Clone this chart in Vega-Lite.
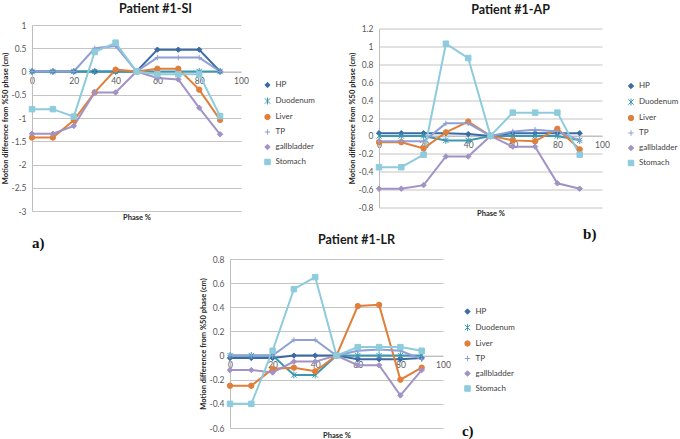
{
  "$schema": "https://vega.github.io/schema/vega-lite/v6.json",
  "autosize": {"type": "pad"},
  "padding": {"left": 1, "top": 2, "right": 0, "bottom": 0},
  "background": "white",
  "spacing": -19,
  "resolve": {"legend": {"color": "independent", "shape": "independent"}, "scale": {"color": "independent", "shape": "independent", "fill": "independent", "stroke": "independent", "size": "independent"}},
  "config": {
    "view": {"stroke": null},
    "font": "Lato",
    "axis": {"labelFont": "Lato", "labelColor": "#595959", "labelFontSize": 8.5, "titleFont": "Lato", "titleFontSize": 7.5, "titleFontWeight": "bold", "titleColor": "#262626", "ticks": false, "domainColor": "#bdbdbd", "gridColor": "#c4c4c4", "labelFlush": false, "labelOverlap": false},
    "legend": {"orient": "none", "title": null, "symbolSize": 30, "symbolStrokeWidth": 1, "labelFont": "Lato", "labelFontSize": 8, "labelColor": "#404040", "rowPadding": 5, "labelOffset": 4},
    "title": {"font": "Lato", "fontSize": 12.5, "fontWeight": "bold", "color": "#1a1a1a"}
  },
  "datasets": {
    "si": [
      {"phase":0,"organ":"HP","value":0},{"phase":10,"organ":"HP","value":0},{"phase":20,"organ":"HP","value":0},{"phase":30,"organ":"HP","value":0},{"phase":40,"organ":"HP","value":0},{"phase":50,"organ":"HP","value":0},{"phase":60,"organ":"HP","value":0.47},{"phase":70,"organ":"HP","value":0.47},{"phase":80,"organ":"HP","value":0.47},{"phase":90,"organ":"HP","value":0},
      {"phase":0,"organ":"Duodenum","value":0},{"phase":10,"organ":"Duodenum","value":0},{"phase":20,"organ":"Duodenum","value":0},{"phase":30,"organ":"Duodenum","value":0},{"phase":40,"organ":"Duodenum","value":0},{"phase":50,"organ":"Duodenum","value":0},{"phase":60,"organ":"Duodenum","value":0},{"phase":70,"organ":"Duodenum","value":0},{"phase":80,"organ":"Duodenum","value":0},{"phase":90,"organ":"Duodenum","value":0},
      {"phase":0,"organ":"Liver","value":-1.42},{"phase":10,"organ":"Liver","value":-1.42},{"phase":20,"organ":"Liver","value":-1.05},{"phase":30,"organ":"Liver","value":-0.45},{"phase":40,"organ":"Liver","value":0.04},{"phase":50,"organ":"Liver","value":0},{"phase":60,"organ":"Liver","value":0.06},{"phase":70,"organ":"Liver","value":0.06},{"phase":80,"organ":"Liver","value":-0.39},{"phase":90,"organ":"Liver","value":-1.04},
      {"phase":0,"organ":"TP","value":0},{"phase":10,"organ":"TP","value":0},{"phase":20,"organ":"TP","value":0},{"phase":30,"organ":"TP","value":0.5},{"phase":40,"organ":"TP","value":0.55},{"phase":50,"organ":"TP","value":0},{"phase":60,"organ":"TP","value":0.3},{"phase":70,"organ":"TP","value":0.3},{"phase":80,"organ":"TP","value":0.3},{"phase":90,"organ":"TP","value":0},
      {"phase":0,"organ":"gallbladder","value":-1.34},{"phase":10,"organ":"gallbladder","value":-1.34},{"phase":20,"organ":"gallbladder","value":-1.17},{"phase":30,"organ":"gallbladder","value":-0.45},{"phase":40,"organ":"gallbladder","value":-0.45},{"phase":50,"organ":"gallbladder","value":0},{"phase":60,"organ":"gallbladder","value":-0.14},{"phase":70,"organ":"gallbladder","value":-0.17},{"phase":80,"organ":"gallbladder","value":-0.78},{"phase":90,"organ":"gallbladder","value":-1.35},
      {"phase":0,"organ":"Stomach","value":-0.81},{"phase":10,"organ":"Stomach","value":-0.81},{"phase":20,"organ":"Stomach","value":-0.97},{"phase":30,"organ":"Stomach","value":0.42},{"phase":40,"organ":"Stomach","value":0.62},{"phase":50,"organ":"Stomach","value":0},{"phase":60,"organ":"Stomach","value":-0.06},{"phase":70,"organ":"Stomach","value":-0.06},{"phase":80,"organ":"Stomach","value":-0.06},{"phase":90,"organ":"Stomach","value":-0.96}
    ],
    "ap": [
      {"phase":0,"organ":"HP","value":0.03},{"phase":10,"organ":"HP","value":0.03},{"phase":20,"organ":"HP","value":0.03},{"phase":30,"organ":"HP","value":0.03},{"phase":40,"organ":"HP","value":0.02},{"phase":50,"organ":"HP","value":0},{"phase":60,"organ":"HP","value":0.03},{"phase":70,"organ":"HP","value":0.03},{"phase":80,"organ":"HP","value":0.03},{"phase":90,"organ":"HP","value":0.03},
      {"phase":0,"organ":"Duodenum","value":0},{"phase":10,"organ":"Duodenum","value":0},{"phase":20,"organ":"Duodenum","value":0},{"phase":30,"organ":"Duodenum","value":-0.05},{"phase":40,"organ":"Duodenum","value":-0.05},{"phase":50,"organ":"Duodenum","value":0},{"phase":60,"organ":"Duodenum","value":0},{"phase":70,"organ":"Duodenum","value":0},{"phase":80,"organ":"Duodenum","value":0},{"phase":90,"organ":"Duodenum","value":-0.05},
      {"phase":0,"organ":"Liver","value":-0.07},{"phase":10,"organ":"Liver","value":-0.07},{"phase":20,"organ":"Liver","value":-0.14},{"phase":30,"organ":"Liver","value":0.04},{"phase":40,"organ":"Liver","value":0.16},{"phase":50,"organ":"Liver","value":0},{"phase":60,"organ":"Liver","value":-0.05},{"phase":70,"organ":"Liver","value":-0.06},{"phase":80,"organ":"Liver","value":0.08},{"phase":90,"organ":"Liver","value":-0.15},
      {"phase":0,"organ":"TP","value":-0.06},{"phase":10,"organ":"TP","value":-0.06},{"phase":20,"organ":"TP","value":-0.06},{"phase":30,"organ":"TP","value":0.14},{"phase":40,"organ":"TP","value":0.14},{"phase":50,"organ":"TP","value":0},{"phase":60,"organ":"TP","value":0.05},{"phase":70,"organ":"TP","value":0.07},{"phase":80,"organ":"TP","value":0.05},{"phase":90,"organ":"TP","value":-0.05},
      {"phase":0,"organ":"gallbladder","value":-0.59},{"phase":10,"organ":"gallbladder","value":-0.59},{"phase":20,"organ":"gallbladder","value":-0.55},{"phase":30,"organ":"gallbladder","value":-0.23},{"phase":40,"organ":"gallbladder","value":-0.23},{"phase":50,"organ":"gallbladder","value":0},{"phase":60,"organ":"gallbladder","value":-0.12},{"phase":70,"organ":"gallbladder","value":-0.12},{"phase":80,"organ":"gallbladder","value":-0.53},{"phase":90,"organ":"gallbladder","value":-0.59},
      {"phase":0,"organ":"Stomach","value":-0.35},{"phase":10,"organ":"Stomach","value":-0.35},{"phase":20,"organ":"Stomach","value":-0.21},{"phase":30,"organ":"Stomach","value":1.03},{"phase":40,"organ":"Stomach","value":0.87},{"phase":50,"organ":"Stomach","value":0},{"phase":60,"organ":"Stomach","value":0.26},{"phase":70,"organ":"Stomach","value":0.26},{"phase":80,"organ":"Stomach","value":0.26},{"phase":90,"organ":"Stomach","value":-0.21}
    ],
    "lr": [
      {"phase":0,"organ":"HP","value":-0.02},{"phase":10,"organ":"HP","value":-0.02},{"phase":20,"organ":"HP","value":-0.02},{"phase":30,"organ":"HP","value":0},{"phase":40,"organ":"HP","value":0},{"phase":50,"organ":"HP","value":0},{"phase":60,"organ":"HP","value":-0.03},{"phase":70,"organ":"HP","value":-0.03},{"phase":80,"organ":"HP","value":-0.03},{"phase":90,"organ":"HP","value":-0.02},
      {"phase":0,"organ":"Duodenum","value":0},{"phase":10,"organ":"Duodenum","value":0},{"phase":20,"organ":"Duodenum","value":0},{"phase":30,"organ":"Duodenum","value":-0.16},{"phase":40,"organ":"Duodenum","value":-0.16},{"phase":50,"organ":"Duodenum","value":0},{"phase":60,"organ":"Duodenum","value":0},{"phase":70,"organ":"Duodenum","value":0},{"phase":80,"organ":"Duodenum","value":0},{"phase":90,"organ":"Duodenum","value":0},
      {"phase":0,"organ":"Liver","value":-0.25},{"phase":10,"organ":"Liver","value":-0.25},{"phase":20,"organ":"Liver","value":-0.11},{"phase":30,"organ":"Liver","value":-0.1},{"phase":40,"organ":"Liver","value":-0.13},{"phase":50,"organ":"Liver","value":0},{"phase":60,"organ":"Liver","value":0.41},{"phase":70,"organ":"Liver","value":0.42},{"phase":80,"organ":"Liver","value":-0.2},{"phase":90,"organ":"Liver","value":-0.1},
      {"phase":0,"organ":"TP","value":0},{"phase":10,"organ":"TP","value":0},{"phase":20,"organ":"TP","value":0},{"phase":30,"organ":"TP","value":0.13},{"phase":40,"organ":"TP","value":0.13},{"phase":50,"organ":"TP","value":0},{"phase":60,"organ":"TP","value":0.04},{"phase":70,"organ":"TP","value":0.05},{"phase":80,"organ":"TP","value":0.04},{"phase":90,"organ":"TP","value":-0.03},
      {"phase":0,"organ":"gallbladder","value":-0.12},{"phase":10,"organ":"gallbladder","value":-0.12},{"phase":20,"organ":"gallbladder","value":-0.14},{"phase":30,"organ":"gallbladder","value":-0.05},{"phase":40,"organ":"gallbladder","value":-0.05},{"phase":50,"organ":"gallbladder","value":0},{"phase":60,"organ":"gallbladder","value":-0.08},{"phase":70,"organ":"gallbladder","value":-0.08},{"phase":80,"organ":"gallbladder","value":-0.33},{"phase":90,"organ":"gallbladder","value":-0.12},
      {"phase":0,"organ":"Stomach","value":-0.4},{"phase":10,"organ":"Stomach","value":-0.4},{"phase":20,"organ":"Stomach","value":0.04},{"phase":30,"organ":"Stomach","value":0.55},{"phase":40,"organ":"Stomach","value":0.65},{"phase":50,"organ":"Stomach","value":0},{"phase":60,"organ":"Stomach","value":0.07},{"phase":70,"organ":"Stomach","value":0.07},{"phase":80,"organ":"Stomach","value":0.07},{"phase":90,"organ":"Stomach","value":0.04}
    ],
    "la": [{"phase":0,"value":-3.69,"label":"a)"}],
    "lb": [{"phase":91.5,"value":-1.1,"label":"b)"}],
    "lc": [{"phase":108.9,"value":-0.625,"label":"c)"}]
  },
  "vconcat": [
    {
      "bounds": "flush",
      "spacing": 138,
      "center": true,
      "resolve": {"legend": {"color": "independent", "shape": "independent"}, "scale": {"color": "independent", "shape": "independent", "fill": "independent", "stroke": "independent", "size": "independent"}},
      "hconcat": [
        {
          "width": 209, "height": 186,
          "title": {"text": "Patient #1-SI", "offset": 6, "dx": 19},
          "encoding": {
            "x": {"field": "phase", "type": "quantitative", "scale": {"domain": [0, 100], "nice": false}, "axis": {"values": [0,20,40,60,80,100], "title": "Phase %", "offset": -139.5, "titleY": 145.5, "titleBaseline": "middle", "grid": false, "labelPadding": 5}},
            "y": {"field": "value", "type": "quantitative", "scale": {"domain": [-3, 1], "nice": false, "zero": false}, "axis": {"values": [-3,-2.5,-2,-1.5,-1,-0.5,0,0.5,1], "labelExpr": "'' + datum.value", "title": "Motion difference from %50 phase (cm)", "titleX": -27, "titleBaseline": "middle", "grid": true, "labelPadding": 6}}
          },
          "layer": [
            {
              "data": {"name": "si"},
              "mark": {"type": "line", "strokeWidth": 2},
              "encoding": {
                "color": {"field": "organ", "type": "nominal", "scale": {"domain": ["HP","Duodenum","Liver","TP","gallbladder","Stomach"], "range": ["#3a6ba5","#3c97b2","#e07f3a","#8ea0d6","#a193c6","#8ecbdc"]}, "legend": {"legendX": 231.5, "legendY": 56}}
              }
            },
            {
              "data": {"name": "si"},
              "mark": {"type": "point", "filled": true, "opacity": 1, "strokeWidth": 1},
              "encoding": {
                "shape": {"field": "organ", "type": "nominal", "scale": {"domain": ["HP","Duodenum","Liver","TP","gallbladder","Stomach"], "range": ["diamond","M-1,-1L1,1M-1,1L1,-1M0,-1.3V1.3","circle","M-1,0H1M0,-1V1","diamond","square"]}, "legend": {"legendX": 231.5, "legendY": 56}},
                "fill": {"field": "organ", "type": "nominal", "scale": {"domain": ["HP","Duodenum","Liver","TP","gallbladder","Stomach"], "range": ["#3a6ba5","#3c97b2","#e07f3a","#8ea0d6","#a193c6","#8ecbdc"]}, "legend": null},
                "stroke": {"field": "organ", "type": "nominal", "scale": {"domain": ["HP","Duodenum","Liver","TP","gallbladder","Stomach"], "range": ["#3a6ba5","#3c97b2","#e07f3a","#8ea0d6","#a193c6","#8ecbdc"]}, "legend": null},
                "size": {"field": "organ", "type": "nominal", "scale": {"domain": ["HP","Duodenum","Liver","TP","gallbladder","Stomach"], "range": [28,30,42,42,28,45]}, "legend": null}
              }
            },
            {
              "data": {"name": "la"},
              "mark": {"type": "text", "align": "left", "baseline": "middle", "font": "Liberation Serif", "fontWeight": "bold", "fontSize": 15, "color": "#111111"},
              "encoding": {"text": {"field": "label", "type": "nominal"}}
            }
          ]
        },
        {
          "width": 223, "height": 179,
          "title": {"text": "Patient #1-AP", "offset": 8, "dx": 20},
          "encoding": {
            "x": {"field": "phase", "type": "quantitative", "scale": {"domain": [0, 100], "nice": false}, "axis": {"values": [0,20,40,60,80,100], "title": "Phase %", "offset": -71.6, "titleY": 78, "titleBaseline": "middle", "grid": false, "labelPadding": 5}},
            "y": {"field": "value", "type": "quantitative", "scale": {"domain": [-0.8, 1.2], "nice": false, "zero": false}, "axis": {"values": [-0.8,-0.6,-0.4,-0.2,0,0.2,0.4,0.6,0.8,1,1.2], "labelExpr": "'' + datum.value", "title": "Motion difference from %50 phase (cm)", "titleX": -27, "titleBaseline": "middle", "grid": true, "labelPadding": 6}}
          },
          "layer": [
            {
              "data": {"name": "ap"},
              "mark": {"type": "line", "strokeWidth": 2},
              "encoding": {
                "color": {"field": "organ", "type": "nominal", "scale": {"domain": ["HP","Duodenum","Liver","TP","gallbladder","Stomach"], "range": ["#3a6ba5","#3c97b2","#e07f3a","#8ea0d6","#a193c6","#8ecbdc"]}, "legend": {"legendX": 248, "legendY": 53.5}}
              }
            },
            {
              "data": {"name": "ap"},
              "mark": {"type": "point", "filled": true, "opacity": 1, "strokeWidth": 1},
              "encoding": {
                "shape": {"field": "organ", "type": "nominal", "scale": {"domain": ["HP","Duodenum","Liver","TP","gallbladder","Stomach"], "range": ["diamond","M-1,-1L1,1M-1,1L1,-1M0,-1.3V1.3","circle","M-1,0H1M0,-1V1","diamond","square"]}, "legend": {"legendX": 248, "legendY": 53.5}},
                "fill": {"field": "organ", "type": "nominal", "scale": {"domain": ["HP","Duodenum","Liver","TP","gallbladder","Stomach"], "range": ["#3a6ba5","#3c97b2","#e07f3a","#8ea0d6","#a193c6","#8ecbdc"]}, "legend": null},
                "stroke": {"field": "organ", "type": "nominal", "scale": {"domain": ["HP","Duodenum","Liver","TP","gallbladder","Stomach"], "range": ["#3a6ba5","#3c97b2","#e07f3a","#8ea0d6","#a193c6","#8ecbdc"]}, "legend": null},
                "size": {"field": "organ", "type": "nominal", "scale": {"domain": ["HP","Duodenum","Liver","TP","gallbladder","Stomach"], "range": [28,30,42,42,28,45]}, "legend": null}
              }
            },
            {
              "data": {"name": "lb"},
              "mark": {"type": "text", "align": "left", "baseline": "middle", "font": "Liberation Serif", "fontWeight": "bold", "fontSize": 15, "color": "#111111"},
              "encoding": {"text": {"field": "label", "type": "nominal"}}
            }
          ]
        }
      ]
    },
    {
      "bounds": "flush",
      "spacing": 20,
      "resolve": {"legend": {"color": "independent", "shape": "independent"}, "scale": {"color": "independent", "shape": "independent", "fill": "independent", "stroke": "independent", "size": "independent"}},
      "hconcat": [
        {
          "width": 178, "height": 169,
          "data": {"values": []},
          "mark": "point"
        },
        {
          "width": 213, "height": 169,
          "title": {"text": "Patient #1-LR", "offset": 9, "dx": 20},
          "encoding": {
            "x": {"field": "phase", "type": "quantitative", "scale": {"domain": [0, 100], "nice": false}, "axis": {"values": [0,20,40,60,80,100], "title": "Phase %", "offset": -72.4, "titleY": 79.5, "titleBaseline": "middle", "grid": false, "labelPadding": 5}},
            "y": {"field": "value", "type": "quantitative", "scale": {"domain": [-0.6, 0.8], "nice": false, "zero": false}, "axis": {"values": [-0.6,-0.4,-0.2,0,0.2,0.4,0.6,0.8], "labelExpr": "'' + datum.value", "title": "Motion difference from %50 phase (cm)", "titleX": -27, "titleBaseline": "middle", "grid": true, "labelPadding": 6}}
          },
          "layer": [
            {
              "data": {"name": "lr"},
              "mark": {"type": "line", "strokeWidth": 2},
              "encoding": {
                "color": {"field": "organ", "type": "nominal", "scale": {"domain": ["HP","Duodenum","Liver","TP","gallbladder","Stomach"], "range": ["#3a6ba5","#3c97b2","#e07f3a","#8ea0d6","#a193c6","#8ecbdc"]}, "legend": {"legendX": 233.5, "legendY": 48.5}}
              }
            },
            {
              "data": {"name": "lr"},
              "mark": {"type": "point", "filled": true, "opacity": 1, "strokeWidth": 1},
              "encoding": {
                "shape": {"field": "organ", "type": "nominal", "scale": {"domain": ["HP","Duodenum","Liver","TP","gallbladder","Stomach"], "range": ["diamond","M-1,-1L1,1M-1,1L1,-1M0,-1.3V1.3","circle","M-1,0H1M0,-1V1","diamond","square"]}, "legend": {"legendX": 233.5, "legendY": 48.5}},
                "fill": {"field": "organ", "type": "nominal", "scale": {"domain": ["HP","Duodenum","Liver","TP","gallbladder","Stomach"], "range": ["#3a6ba5","#3c97b2","#e07f3a","#8ea0d6","#a193c6","#8ecbdc"]}, "legend": null},
                "stroke": {"field": "organ", "type": "nominal", "scale": {"domain": ["HP","Duodenum","Liver","TP","gallbladder","Stomach"], "range": ["#3a6ba5","#3c97b2","#e07f3a","#8ea0d6","#a193c6","#8ecbdc"]}, "legend": null},
                "size": {"field": "organ", "type": "nominal", "scale": {"domain": ["HP","Duodenum","Liver","TP","gallbladder","Stomach"], "range": [28,30,42,42,28,45]}, "legend": null}
              }
            },
            {
              "data": {"name": "lc"},
              "mark": {"type": "text", "align": "left", "baseline": "middle", "font": "Liberation Serif", "fontWeight": "bold", "fontSize": 15, "color": "#111111"},
              "encoding": {"text": {"field": "label", "type": "nominal"}}
            }
          ]
        }
      ]
    }
  ]
}
